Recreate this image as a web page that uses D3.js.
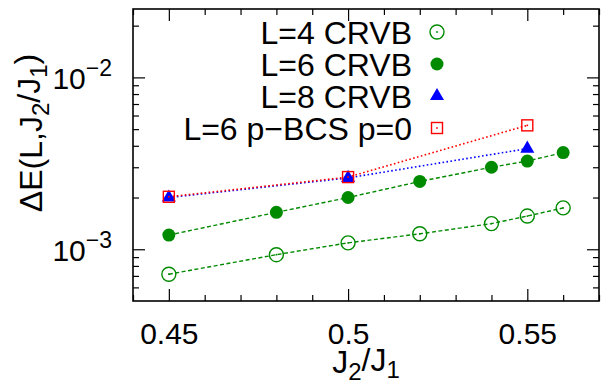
<!DOCTYPE html>
<html>
<head>
<meta charset="utf-8">
<script src="https://cdn.jsdelivr.net/npm/d3@7"></script>
<style>
  body { margin: 0; background: #fff; }
  svg text { font-family: "Liberation Sans", Arial, Helvetica, sans-serif; fill: #000; }
</style>
</head>
<body>
<div id="chart"></div>
<script>
// values
var xL4 = [0.45, 0.48, 0.50, 0.52, 0.54, 0.55, 0.56];
var yL4 = [7.16e-4, 9.3e-4, 1.09e-3, 1.23e-3, 1.41e-3, 1.56e-3, 1.74e-3];
var xL6 = [0.45, 0.48, 0.50, 0.52, 0.54, 0.55, 0.56];
var yL6 = [1.21e-3, 1.64e-3, 2.0e-3, 2.48e-3, 3.0e-3, 3.26e-3, 3.65e-3];
var xL8 = [0.45, 0.50, 0.55];
var yL8 = [2.0e-3, 2.6e-3, 3.85e-3];
var xBCS = [0.45, 0.50, 0.55];
var yBCS = [2.02e-3, 2.63e-3, 5.26e-3];

var legendLabels = ["L=4 CRVB", "L=6 CRVB", "L=8 CRVB", "L=6 p\u2212BCS p=0"];
var xMajor = [0.45, 0.5, 0.55];
var xMinor = [0.44, 0.46, 0.47, 0.48, 0.49, 0.51, 0.52, 0.53, 0.54, 0.56, 0.57];
var yMajor = [1e-3, 1e-2];
var yMajorLabels = ["\u22123", "\u22122"];
var yMinor = [6e-4, 7e-4, 8e-4, 9e-4, 2e-3, 3e-3, 4e-3, 5e-3, 6e-3, 7e-3, 8e-3, 9e-3, 2e-2];

var green = "#008a00", blue = "#0000ff", red = "#ff0000";

var margin = {top: 9, right: 3, bottom: 84, left: 133},
    width = 602 - margin.left - margin.right,
    height = 385 - margin.top - margin.bottom;

var svg = d3.select("#chart")
    .append("svg")
    .attr("width", 602)
    .attr("height", 385)
    .append("g")
    .attr("transform", "translate(" + margin.left + "," + margin.top + ")");

var x = d3.scaleLinear().domain([0.44, 0.57]).range([0, width]);
var y = d3.scaleLog().domain([5e-4, 2.5e-2]).range([height, 0]);

// ticks, all pointing inwards, mirrored on the opposite sides
function tickStyle(g) {
  g.select(".domain").remove();
  g.selectAll(".tick line").attr("stroke", "#000").attr("stroke-width", 1.2);
}
svg.append("g").attr("transform", "translate(0," + height + ")")
    .call(d3.axisBottom(x).tickValues(xMinor).tickSize(-6).tickFormat(""))
    .call(tickStyle);
svg.append("g")
    .call(d3.axisTop(x).tickValues(xMinor).tickSize(-6).tickFormat(""))
    .call(tickStyle);
svg.append("g")
    .call(d3.axisTop(x).tickValues(xMajor).tickSize(-12).tickFormat(""))
    .call(tickStyle);
var xAxis = svg.append("g").attr("transform", "translate(0," + height + ")")
    .call(d3.axisBottom(x).tickValues(xMajor).tickSize(-12).tickPadding(22).tickFormat(d3.format("")))
    .call(tickStyle);
xAxis.selectAll("text").style("font-size", "30px").attr("fill", "#000");

svg.append("g")
    .call(d3.axisLeft(y).tickValues(yMinor).tickSize(-6).tickFormat(""))
    .call(tickStyle);
svg.append("g").attr("transform", "translate(" + width + ",0)")
    .call(d3.axisRight(y).tickValues(yMinor).tickSize(-6).tickFormat(""))
    .call(tickStyle);
svg.append("g").attr("transform", "translate(" + width + ",0)")
    .call(d3.axisRight(y).tickValues(yMajor).tickSize(-12).tickFormat(""))
    .call(tickStyle);
var yAxis = svg.append("g")
    .call(d3.axisLeft(y).tickValues(yMajor).tickSize(-12).tickPadding(21).tickFormat(""))
    .call(tickStyle);
yAxis.selectAll(".tick text").each(function(d, i) {
  var t = d3.select(this).style("font-size", "30px").attr("fill", "#000").attr("dy", "0.36em");
  t.append("tspan").text("10");
  t.append("tspan").attr("dy", "-0.55em").style("font-size", "23px").text(yMajorLabels[i]);
});

// frame
svg.append("rect")
    .attr("width", width).attr("height", height)
    .attr("fill", "none").attr("stroke", "#000").attr("stroke-width", 1.6);

// axis titles
var xt = svg.append("text")
    .attr("x", width / 2).attr("y", 373 - margin.top)
    .attr("text-anchor", "middle").style("font-size", "32px");
xt.append("tspan").text("J");
xt.append("tspan").attr("dy", "0.3em").style("font-size", "24px").text("2");
xt.append("tspan").attr("dy", "-0.3em").text("/J");
xt.append("tspan").attr("dy", "0.3em").style("font-size", "24px").text("1");

var yt = svg.append("text")
    .attr("transform", "translate(" + (42 - margin.left) + "," + (133 - margin.top) + ") rotate(-90)")
    .attr("text-anchor", "middle").style("font-size", "32px");
yt.append("tspan").text("\u0394E(L,J");
yt.append("tspan").attr("dy", "0.3em").style("font-size", "24px").text("2");
yt.append("tspan").attr("dy", "-0.3em").text("/J");
yt.append("tspan").attr("dy", "0.3em").style("font-size", "24px").text("1");
yt.append("tspan").attr("dy", "-0.3em").text(")");

// lines
function series(xs, ys) { return xs.map(function(v, i) { return [v, ys[i]]; }); }
var line = d3.line().x(function(d) { return x(d[0]); }).y(function(d) { return y(d[1]); });

var sL4 = series(xL4, yL4), sL6 = series(xL6, yL6), sL8 = series(xL8, yL8), sBCS = series(xBCS, yBCS);

svg.append("path").datum(sL4).attr("d", line).attr("fill", "none")
    .attr("stroke", green).attr("stroke-width", 1.4).attr("stroke-dasharray", "4,2.5");
svg.append("path").datum(sL6).attr("d", line).attr("fill", "none")
    .attr("stroke", green).attr("stroke-width", 1.4).attr("stroke-dasharray", "4,2.5");
svg.append("path").datum(sL8).attr("d", line).attr("fill", "none")
    .attr("stroke", blue).attr("stroke-width", 1.6).attr("stroke-dasharray", "1.6,2.4");
svg.append("path").datum(sBCS).attr("d", line).attr("fill", "none")
    .attr("stroke", red).attr("stroke-width", 1.6).attr("stroke-dasharray", "1.6,2.4");

// markers
function openCircle(g, cx, cy) {
  g.append("circle").attr("cx", cx).attr("cy", cy).attr("r", 7)
    .attr("fill", "none").attr("stroke", green).attr("stroke-width", 1.4);
  g.append("circle").attr("cx", cx).attr("cy", cy).attr("r", 0.9).attr("fill", green);
}
function filledCircle(g, cx, cy) {
  g.append("circle").attr("cx", cx).attr("cy", cy).attr("r", 6.5).attr("fill", green);
}
function triangle(g, cx, cy) {
  g.append("path").attr("d", d3.symbol().type(d3.symbolTriangle).size(85)())
    .attr("transform", "translate(" + cx + "," + cy + ")").attr("fill", blue);
}
function square(g, cx, cy) {
  g.append("rect").attr("x", cx - 5.5).attr("y", cy - 5.5).attr("width", 11).attr("height", 11)
    .attr("fill", "none").attr("stroke", red).attr("stroke-width", 1.4);
  g.append("rect").attr("x", cx - 0.8).attr("y", cy - 0.8).attr("width", 1.6).attr("height", 1.6).attr("fill", red);
}
var markers = [openCircle, filledCircle, triangle, square];

var pts = svg.append("g");
sL4.forEach(function(d) { openCircle(pts, x(d[0]), y(d[1])); });
sL6.forEach(function(d) { filledCircle(pts, x(d[0]), y(d[1])); });
sL8.forEach(function(d) { triangle(pts, x(d[0]), y(d[1])); });
sBCS.forEach(function(d) { square(pts, x(d[0]), y(d[1])); });

// legend
var legend_x = 412 - margin.left, legend_sym = 437 - margin.left, legend_y = 32 - margin.top;
legendLabels.forEach(function(lab, i) {
  svg.append("text").attr("x", legend_x).attr("y", legend_y + i * 32).attr("dy", "0.36em")
    .attr("text-anchor", "end").style("font-size", "32px").text(lab);
  markers[i](svg, legend_sym, legend_y + i * 32);
});
</script>
</body>
</html>
